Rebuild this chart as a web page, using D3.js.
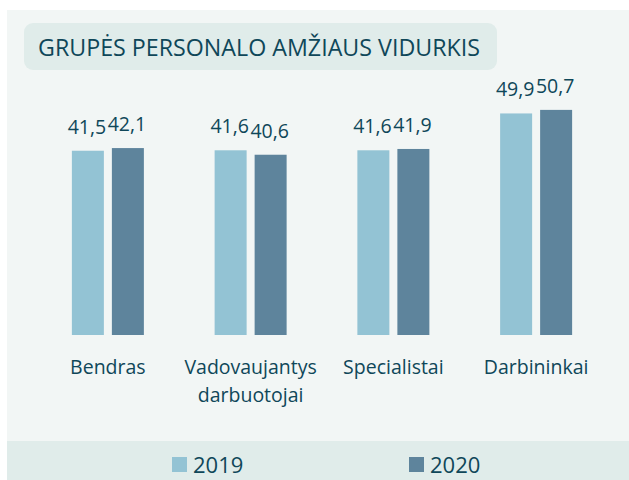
<!DOCTYPE html>
<html>
<head>
<meta charset="utf-8">
<script src="https://cdn.jsdelivr.net/npm/d3@7"></script>
<style>
body{margin:0;background:#fff;}
text{font-family:"Open Sans",sans-serif;fill:#0f4759;}
</style>
</head>
<body>
<div id="graph"></div>
<script>
var width=629, height=480;

var categories=[['Bendras'],['Vadovaujantys','darbuotojai'],['Specialistai'],['Darbininkai']];
var years=['2019','2020'];
var values2019=[41.5,41.6,41.6,49.9];
var values2020=[42.1,40.6,41.9,50.7];
var colors=['#93c3d4','#5e849c'];
var title='GRUPĖS PERSONALO AMŽIAUS VIDURKIS';

var svg=d3.select('#graph').append('svg').attr('width',width).attr('height',height);

// background panel and legend band
svg.append('rect').attr('x',7).attr('y',10).attr('width',width-7).attr('height',431).attr('fill','#f2f6f5');
svg.append('rect').attr('x',7).attr('y',441).attr('width',width-7).attr('height',39).attr('fill','#e0ecea');

// title box
svg.append('rect').attr('x',24).attr('y',23).attr('width',473).attr('height',47).attr('rx',9).attr('fill','#e0ecea');
svg.append('text').attr('x',38).attr('y',56).attr('font-size',23)
	.attr('textLength',442).attr('lengthAdjust','spacingAndGlyphs').text(title);

var names=categories.map(function(c){return c.join(' ');});
var x0=d3.scaleBand().domain(names).range([36.5,607.5]);
var x1=d3.scaleBand().domain(years)
	.range([x0.bandwidth()/2-36,x0.bandwidth()/2+36]).paddingInner(0.2);
var y=d3.scaleLinear().domain([0,50]).range([335,113]);

var data=[];
names.forEach(function(n,i){
	data.push({cat:n,year:'2019',v:values2019[i]});
	data.push({cat:n,year:'2020',v:values2020[i]});
});

svg.selectAll('rect.bar').data(data).enter().append('rect').attr('class','bar')
	.attr('x',function(d){return x0(d.cat)+x1(d.year);})
	.attr('y',function(d){return y(d.v);})
	.attr('width',x1.bandwidth())
	.attr('height',function(d){return y(0)-y(d.v);})
	.attr('fill',function(d){return colors[years.indexOf(d.year)];});

svg.selectAll('text.val').data(data).enter().append('text').attr('class','val')
	.attr('x',function(d){return x0(d.cat)+x1(d.year)+x1.bandwidth()/2-1;})
	.attr('y',function(d){return y(d.v)-17;})
	.attr('text-anchor','middle').attr('font-size',19.5)
	.text(function(d){return d3.format('.1f')(d.v).replace('.',',');});

// category labels
var cl=svg.selectAll('text.cat').data(categories).enter().append('text').attr('class','cat')
	.attr('text-anchor','middle').attr('font-size',19.5)
	.attr('x',function(d,i){return x0(names[i])+x0.bandwidth()/2;})
	.attr('y',374);
cl.selectAll('tspan').data(function(d){return d;}).enter().append('tspan')
	.attr('x',function(){return d3.select(this.parentNode).attr('x');})
	.attr('dy',function(d,i){return i?28:0;})
	.text(function(d){return d;});

// legend
var lx=[172,409];
var lg=svg.selectAll('g.leg').data(years).enter().append('g').attr('class','leg')
	.attr('transform',function(d,i){return 'translate('+lx[i]+',457)';});
lg.append('rect').attr('width',15).attr('height',15).attr('fill',function(d,i){return colors[i];});
lg.append('text').attr('x',21).attr('y',15.5).attr('font-size',22).text(function(d){return d;});
</script>
</body>
</html>
